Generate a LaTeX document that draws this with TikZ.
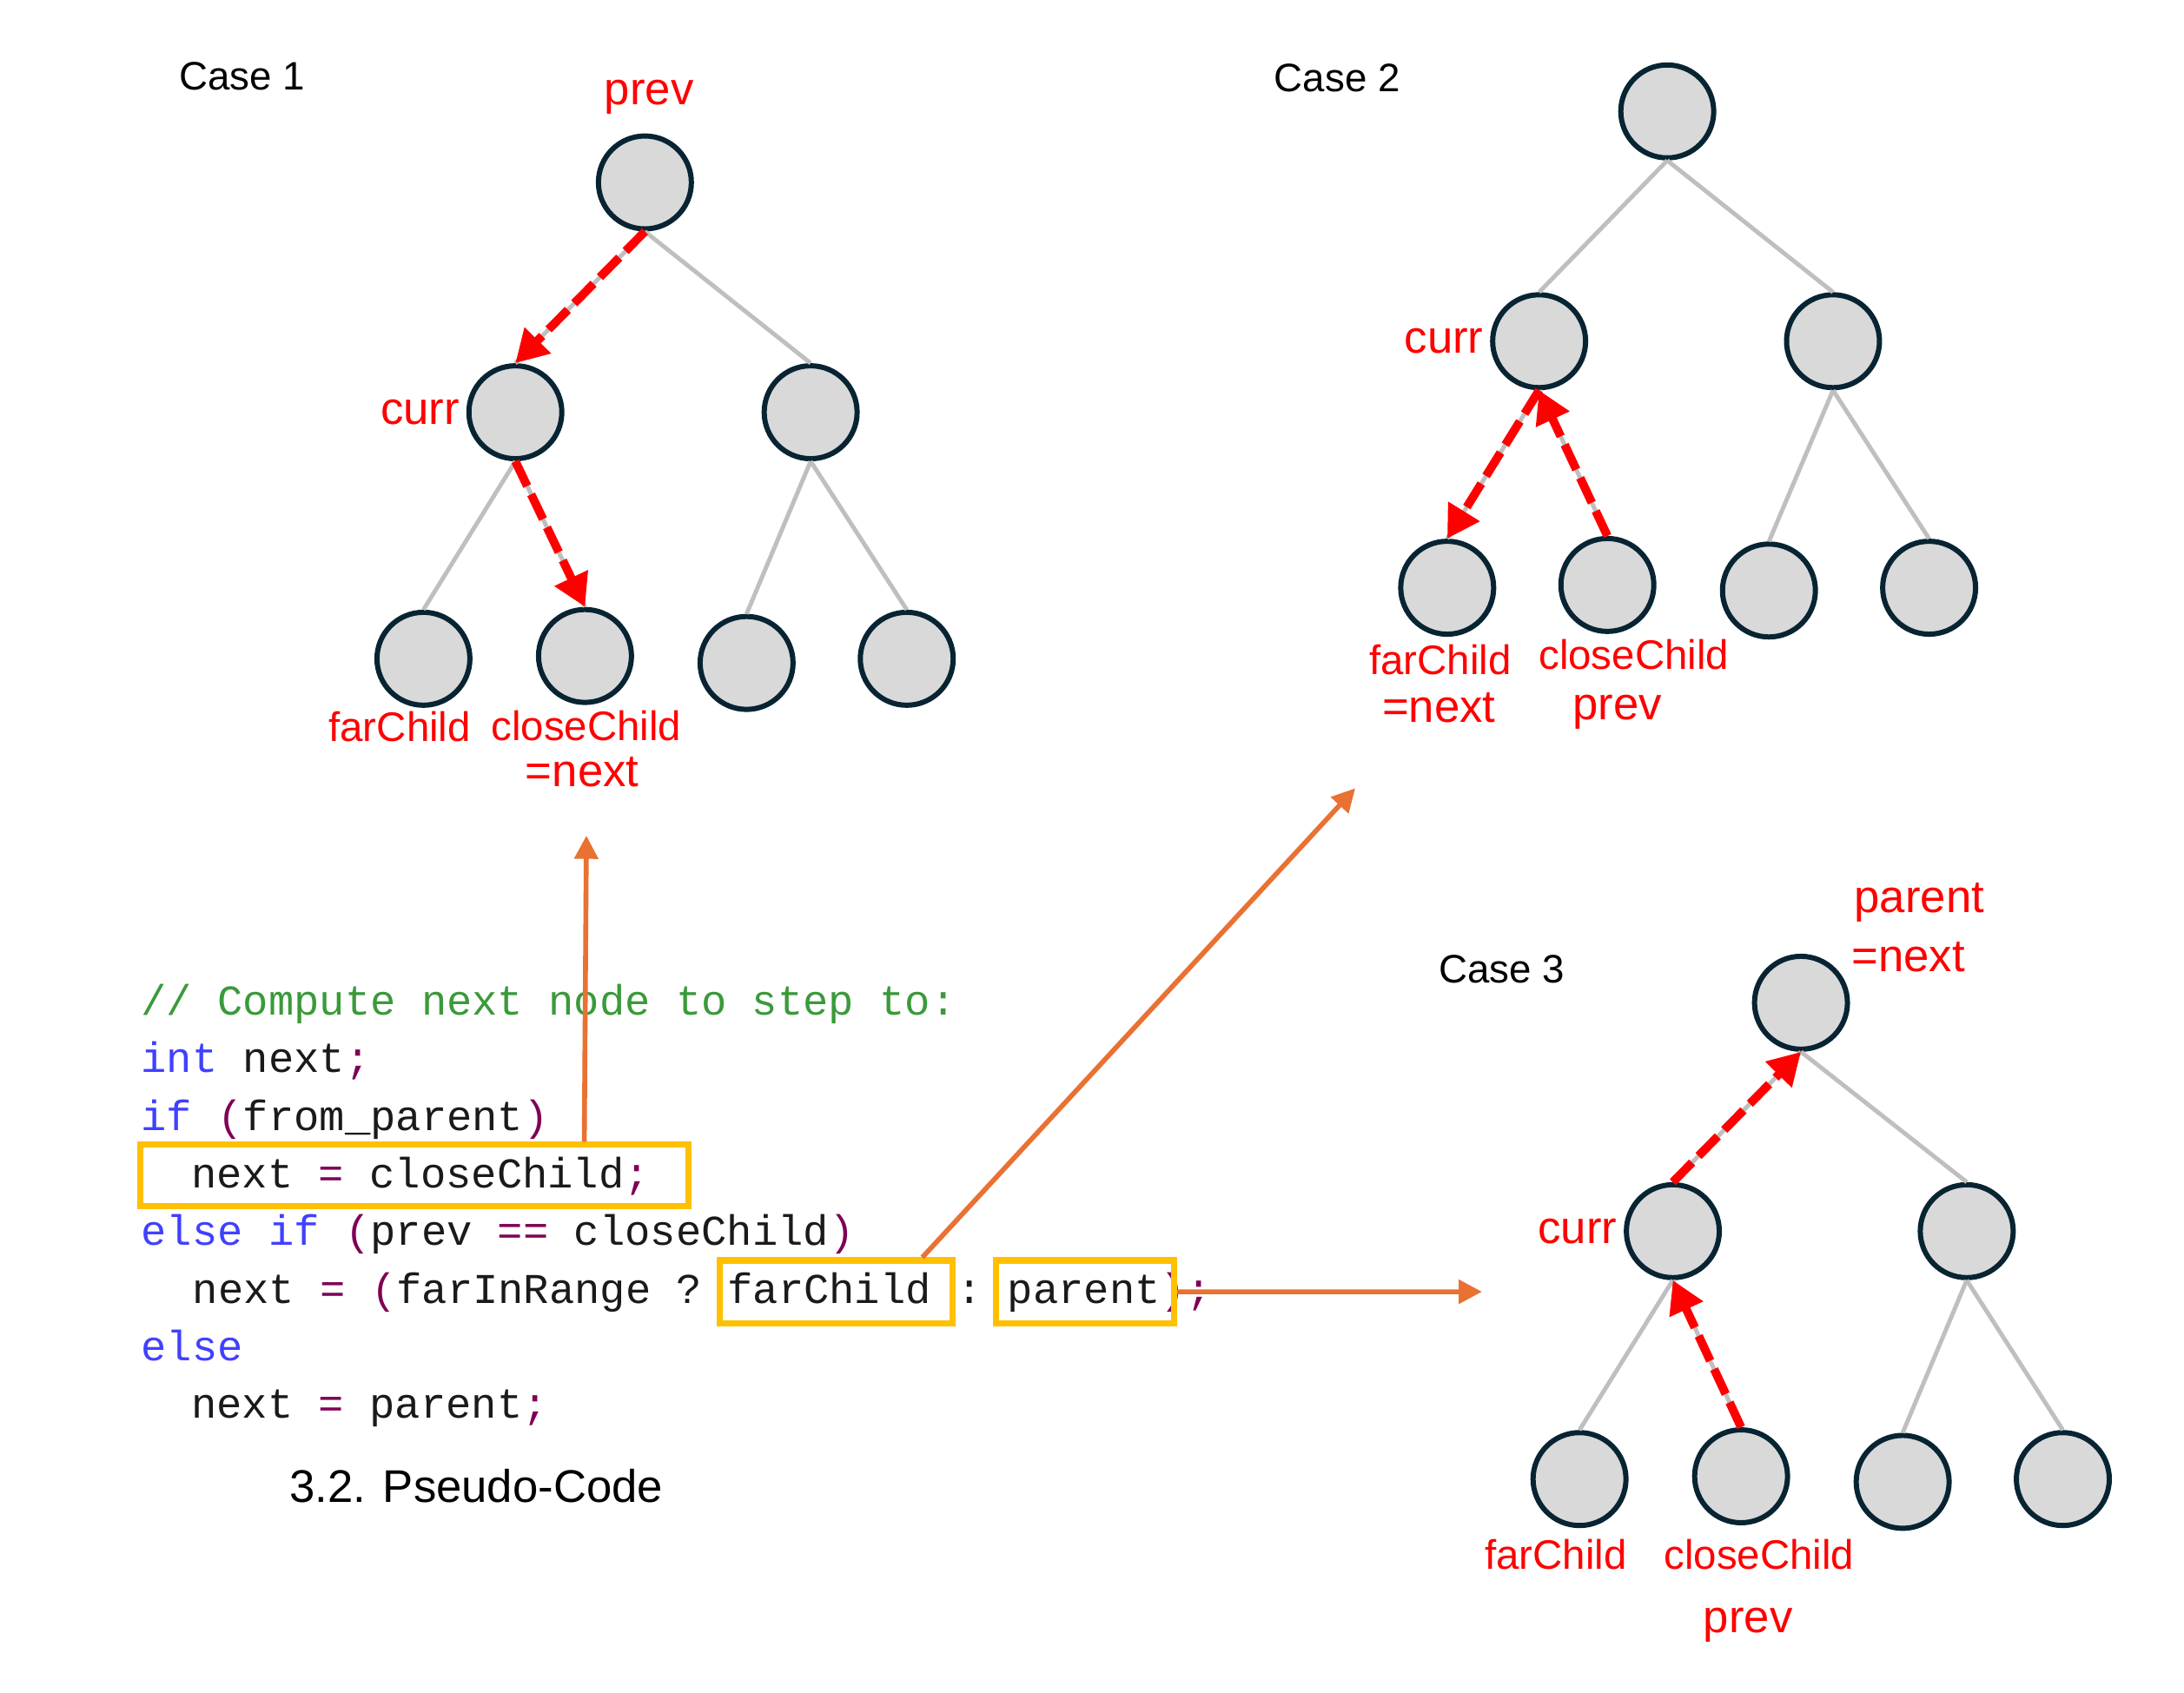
\documentclass[tikz,border=0pt]{standalone}
\usepackage{fontspec}
\setmainfont{Liberation Sans}
\setmonofont{Liberation Mono}
\usetikzlibrary{arrows.meta,calc,positioning,fit}

\definecolor{nodefill}{HTML}{D9D9D9}
\definecolor{nodeline}{HTML}{082433}
\definecolor{edgegray}{HTML}{BFBFBF}
\definecolor{hotred}{HTML}{FF0000}
\definecolor{linkorange}{HTML}{E97132}
\definecolor{boxgold}{HTML}{FFC000}
\definecolor{kwblue}{HTML}{4040FF}
\definecolor{cmtgreen}{HTML}{3A9A3A}
\definecolor{oppurple}{HTML}{7F0055}
\definecolor{codeink}{HTML}{1A1A1A}

\newcommand{\codekw}[1]{\textcolor{kwblue}{#1}}
\newcommand{\codeop}[1]{\textcolor{oppurple}{#1}}

\tikzset{
  tnode/.style={circle, draw=nodeline, fill=nodefill, line width=1.7pt, minimum size=1.07cm, inner sep=0},
  edge/.style={draw=edgegray, line width=1.4pt},
  walk/.style={draw=hotred, line width=2.8pt, dash pattern=on 9pt off 3pt, -{Triangle[length=10.5pt,width=11.5pt]}},
  link/.style={draw=linkorange, line width=1.6pt, -{Triangle[length=7.6pt,width=7.6pt]}},
  hlbox/.style={draw=boxgold, line width=2pt, inner sep=0},
  lbl/.style={text=hotred, font=\fontsize{13.5}{16}\selectfont, inner sep=0},
  biglbl/.style={lbl, font=\fontsize{15}{18}\selectfont},
  casetitle/.style={font=\fontsize{13}{15}\selectfont, inner sep=0},
  code/.style={anchor=base west, text=codeink, font=\ttfamily\fontsize{13.9}{16}\selectfont, inner sep=0}
}

\begin{document}
\begin{tikzpicture}[x=0.016033cm, y=-0.016033cm]
  \useasboundingbox[fill=white] (0,0) rectangle (1568,1215);

  % case 1: coming down from the parent
  \node[casetitle] (case1) at (174,55) {Case 1};
  \node[tnode] (top1) at (463,131) {};
  \node[tnode] (cur1) at (370,296) {};
  \node[tnode] (sib1) at (582,296) {};
  \node[tnode] (far1) at (304,473) {};
  \node[tnode] (close1) at (420,471) {};
  \node[tnode] (sa1) at (536,476) {};
  \node[tnode] (sb1) at (651,473) {};
  \node[biglbl] (prev1) at (466,70) {prev};
  \node[biglbl, left=2pt of cur1] (curr1) {curr};
  \node[lbl] (farl1) at (287,522) {farChild};
  \node[lbl] (closel1) at (421,521) {closeChild};
  \node[biglbl] (next1) at (418,554) {=next};

  % case 2: back from the close child
  \node[casetitle] (case2) at (960,56) {Case 2};
  \node[tnode] (top2) at (1197,80) {};
  \node[tnode] (cur2) at (1105,245) {};
  \node[tnode] (sib2) at (1316,245) {};
  \node[tnode] (far2) at (1039,422) {};
  \node[tnode] (close2) at (1154,420) {};
  \node[tnode] (sa2) at (1270,424) {};
  \node[tnode] (sb2) at (1385,422) {};
  \node[biglbl, left=2pt of cur2] (curr2) {curr};
  \node[lbl] (farl2) at (1034,474) {farChild};
  \node[biglbl] (next2) at (1033,508) {=next};
  \node[lbl] (closel2) at (1173,470) {closeChild};
  \node[biglbl] (prev2) at (1161,511) {prev};

  % case 3: back up to the parent
  \node[casetitle] (case3) at (1078,696) {Case 3};
  \node[tnode] (top3) at (1293,720) {};
  \node[tnode] (cur3) at (1201,884) {};
  \node[tnode] (sib3) at (1412,884) {};
  \node[tnode] (far3) at (1134,1062) {};
  \node[tnode] (close3) at (1250,1060) {};
  \node[tnode] (sa3) at (1366,1064) {};
  \node[tnode] (sb3) at (1481,1062) {};
  \node[biglbl] (parl3) at (1378,648) {parent};
  \node[biglbl] (next3) at (1370,687) {=next};
  \node[biglbl, left=2pt of cur3] (curr3) {curr};
  \node[lbl] (farl3) at (1117,1116) {farChild};
  \node[lbl] (closel3) at (1263,1116) {closeChild};
  \node[biglbl] (prev3) at (1255,1167) {prev};

  \foreach \k in {1,2,3} {
    \foreach \a/\b in {top/cur, top/sib, cur/far, cur/close, sib/sa, sib/sb}
      \draw[edge] (\a\k.south) -- (\b\k.north);
  }

  \draw[walk] (top1.south) -- (cur1.north);
  \draw[walk] (cur1.south) -- (close1.north);
  \draw[walk] (cur2.south) -- (far2.north);
  \draw[walk] (close2.north) -- (cur2.south);
  \draw[walk] (cur3.north) -- (top3.south);
  \draw[walk] (close3.north) -- (cur3.south);

  % pseudo-code
  \node[code] (ln1) at (101,729) {\textcolor{cmtgreen}{// Compute next node to step to:}};
  \node[code] (ln2) at (101,770) {\codekw{int} next\codeop{;}};
  \node[code] (ln3) at (101,812) {\codekw{if} \codeop{(}from\_parent\codeop{)}};
  \node[code] (ln4) at (137,853) {next \codeop{=} closeChild\codeop{;}};
  \node[code] (ln5) at (101,894) {\codekw{else if} \codeop{(}prev \codeop{==} closeChild\codeop{)}};
  \node[code] (ln6) at (138,936) {next \codeop{=} \codeop{(}farInRange ? farChild : parent\codeop{)}\codeop{;}};
  \node[code] (ln7) at (101,977) {\codekw{else}};
  \node[code] (ln8) at (137,1018) {next \codeop{=} parent\codeop{;}};
  \node[font=\fontsize{15}{18}\selectfont, inner sep=0] (caption) at (342,1067) {3.2. Pseudo-Code};

  \node[hlbox, fit={(101,822) (494,866)}] (box1) {};
  \node[hlbox, fit={(517,905) (684,950)}] (box2) {};
  \node[hlbox, fit={(715,905) (843,950)}] (box3) {};

  \coordinate (tipA) at (421,600);
  \coordinate (tipB) at (973,566);
  \coordinate (tipC) at (1064,927.5);
  \draw[link] ($(box1.north west)!0.807!(box1.north east)$) -- (tipA);
  \draw[link] ($(box2.north west)!0.86!(box2.north east)$) -- (tipB);
  \draw[link] (box3.east) -- (tipC);
\end{tikzpicture}
\end{document}
